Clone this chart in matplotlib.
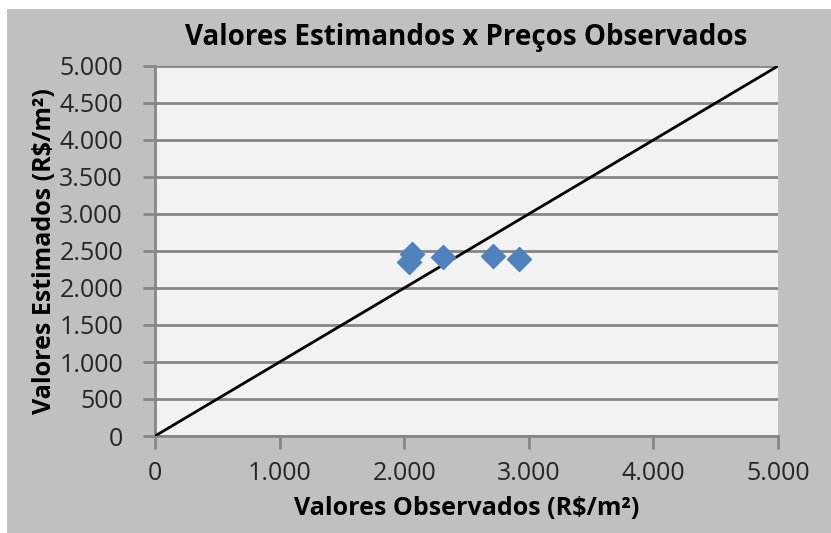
import matplotlib.pyplot as plt
import matplotlib.ticker as mtick
from matplotlib.patches import Rectangle

# pontos observados x estimados (R$/m2)
observados = [2060, 2035, 2315, 2710, 2925]
estimados = [2465, 2350, 2425, 2435, 2395]
linha_ref = [0, 5000]

plt.rcParams['font.family'] = ['Open Sans', 'DejaVu Sans']

fig = plt.figure(figsize=(8.31, 5.33), dpi=100, facecolor='white')
fig.patches.append(Rectangle((7 / 831, 0), 1, 1 - 9 / 533, transform=fig.transFigure,
                             facecolor='#c0c0c0', edgecolor='none', zorder=-10))

ax = fig.add_axes([155 / 831, 1 - 436 / 533, (778 - 155) / 831, (436 - 66) / 533])
ax.set_facecolor('#f2f2f2')

ax.plot(linha_ref, linha_ref, color='black', lw=2, zorder=3)
ax.scatter(observados, estimados, marker='D', s=150, color='#4f81bd', zorder=4)

ax.set_xlim(0, 5000)
ax.set_ylim(0, 5000)
ax.set_xticks(range(0, 5001, 1000))
ax.set_yticks(range(0, 5001, 500))
fmt = mtick.FuncFormatter(lambda v, p: f'{int(v):,}'.replace(',', '.'))
ax.xaxis.set_major_formatter(fmt)
ax.yaxis.set_major_formatter(fmt)
ax.grid(axis='y', color='#868686', lw=2, zorder=1)
ax.set_axisbelow(True)

for s in ['top', 'right']:
    ax.spines[s].set_visible(False)
for s in ['left', 'bottom']:
    ax.spines[s].set_color('#868686')
    ax.spines[s].set_linewidth(2)
ax.tick_params(axis='both', colors='#868686', width=2, length=9, labelcolor='#262626', labelsize=18)
ax.tick_params(axis='x', pad=9)
ax.tick_params(axis='y', pad=14)

ax.set_title('Valores Estimandos x Preços Observados', fontsize=20, fontweight='bold', pad=15)
ax.set_xlabel('Valores Observados (R$/m²)', fontsize=18, fontweight='bold', labelpad=7)
ax.set_ylabel('Valores Estimados (R$/m²)', fontsize=18, fontweight='bold', labelpad=2)

plt.savefig('out.png', dpi=100)
